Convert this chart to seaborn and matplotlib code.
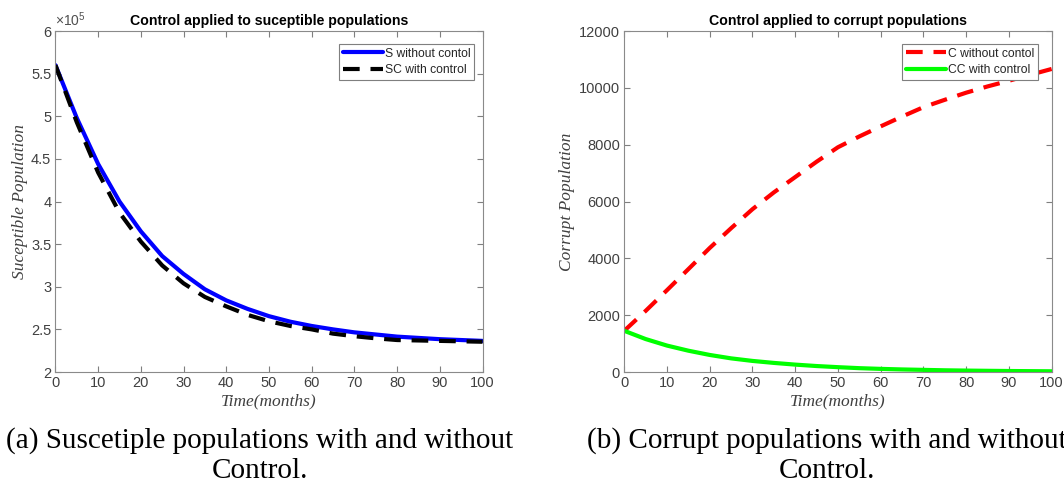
import numpy as np
import matplotlib
matplotlib.use("Agg")
import matplotlib.pyplot as plt
import seaborn as sns
from matplotlib.ticker import FuncFormatter

months = [0, 5, 10, 15, 20, 25, 30, 35, 40, 45, 50, 55, 60, 65, 70, 75, 80, 85, 90, 95, 100]

# susceptible population (a)
S_no_control = [560000, 498000, 444000, 400000, 365000, 336000, 315000, 297000, 284000, 274000,
                265500, 259000, 254000, 250000, 246500, 244000, 241500, 240000, 238500, 237500, 236500]
SC_control = [560000, 493000, 434000, 387000, 353000, 325000, 304000, 288000, 277000, 267000,
              259500, 254000, 250000, 245000, 242000, 239500, 237500, 237000, 236500, 236000, 235500]

# corrupt population (b)
C_no_control = [1450, 2150, 2880, 3620, 4365, 5060, 5730, 6320, 6860, 7400, 7910,
                8290, 8645, 8990, 9320, 9580, 9830, 10050, 10250, 10460, 10665]
CC_control = [1450, 1160, 930, 750, 600, 480, 390, 320, 260, 210, 170,
              135, 110, 90, 75, 60, 50, 42, 35, 30, 25]

sns.set_theme(style="white")
plt.rcParams["font.family"] = ["Liberation Sans", "DejaVu Sans"]
plt.rcParams["mathtext.fontset"] = "custom"
plt.rcParams["mathtext.rm"] = "Liberation Sans"

fig = plt.figure(figsize=(10.64, 4.84), dpi=100)
ax1 = fig.add_axes([0.0521, 0.2314, 0.4014, 0.7045])
ax2 = fig.add_axes([0.5867, 0.2314, 0.4017, 0.7045])

lw = 3.0
dash = (0, (4.0, 2.6))

sns.lineplot(x=months, y=S_no_control, ax=ax1, color="#0000ff", linewidth=lw, label="S without contol")
sns.lineplot(x=months, y=SC_control, ax=ax1, color="black", linewidth=lw, linestyle=dash, label="SC with control")
sns.lineplot(x=months, y=C_no_control, ax=ax2, color="#ff0000", linewidth=lw, linestyle=dash, label="C without contol")
sns.lineplot(x=months, y=CC_control, ax=ax2, color="#00ff00", linewidth=lw, label="CC with control")

ax1.set_ylim(200000, 600000)
ax1.set_yticks(np.arange(200000, 600001, 50000))
ax1.yaxis.set_major_formatter(FuncFormatter(lambda v, p: f"{v/1e5:g}"))
ax1.text(0.0, 1.005, r"$\times\mathregular{10^5}$", transform=ax1.transAxes, ha="left", va="bottom",
         fontsize=10, color="#505050")
ax2.set_ylim(0, 12000)
ax2.set_yticks(np.arange(0, 12001, 2000))

titles = ["Control applied to suceptible populations", "Control applied to corrupt populations"]
ylabels = ["Suceptible Population", "Corrupt Population"]
legend_anchor = [(0.9797, 0.962), (0.967, 0.962)]
ypads = [2, 3]
for ax, t, yl, anc, yp in zip([ax1, ax2], titles, ylabels, legend_anchor, ypads):
    ax.set_xlim(0, 100)
    ax.set_xticks(range(0, 101, 10))
    ax.set_title(t, fontsize=10.2, fontweight="bold", color="black", pad=4)
    ax.set_xlabel("Time(months)", family="Liberation Serif", style="italic", fontsize=12.5, color="#404040", labelpad=2)
    ax.set_ylabel(yl, family="Liberation Serif", style="italic", fontsize=12.5, color="#404040", labelpad=yp)
    ax.tick_params(direction="in", length=4, width=0.8, colors="#7f7f7f", labelcolor="#404040",
                   labelsize=10.5, top=True, right=True, bottom=True, left=True, pad=3)
    for s in ax.spines.values():
        s.set_color("#8a8a8a")
        s.set_linewidth(0.8)
    leg = ax.legend(loc="upper right", bbox_to_anchor=anc, fontsize=8.7, frameon=True, fancybox=False,
                    framealpha=1, edgecolor="#7f7f7f", handlelength=3.3, handletextpad=0.15,
                    labelspacing=0.4, borderpad=0.3, borderaxespad=0)
    leg.get_frame().set_linewidth(0.8)

cap_kw = dict(family="Liberation Serif", fontsize=21, color="black", ha="center", va="baseline")
fig.text(260 / 1064, (484 - 448) / 484, "(a) Suscetiple populations with and without", **cap_kw)
fig.text(260 / 1064, (484 - 478) / 484, "Control.", **cap_kw)
fig.text(827 / 1064, (484 - 448) / 484, "(b) Corrupt populations with and without", **cap_kw)
fig.text(827 / 1064, (484 - 478) / 484, "Control.", **cap_kw)

fig.savefig("out.png", dpi=100)
